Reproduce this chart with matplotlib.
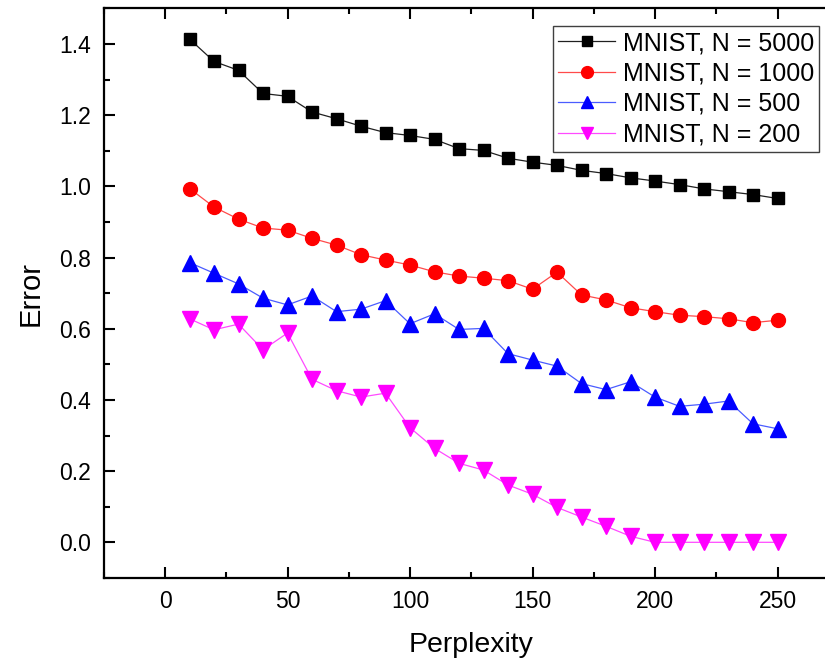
import matplotlib
matplotlib.use("Agg")
import matplotlib.pyplot as plt
from matplotlib.ticker import MultipleLocator

perplexity = [10, 20, 30, 40, 50, 60, 70, 80, 90, 100, 110, 120, 130,
              140, 150, 160, 170, 180, 190, 200, 210, 220, 230, 240, 250]

err_5000 = [1.414, 1.351, 1.326, 1.261, 1.253, 1.209, 1.190, 1.169, 1.151, 1.143,
            1.132, 1.106, 1.101, 1.079, 1.068, 1.059, 1.045, 1.036, 1.024, 1.015,
            1.005, 0.993, 0.985, 0.977, 0.966]
err_1000 = [0.994, 0.942, 0.908, 0.883, 0.877, 0.854, 0.835, 0.808, 0.793, 0.779,
            0.760, 0.748, 0.742, 0.735, 0.711, 0.759, 0.695, 0.681, 0.659, 0.648,
            0.638, 0.634, 0.628, 0.617, 0.624]
err_500 = [0.786, 0.756, 0.726, 0.686, 0.667, 0.692, 0.648, 0.655, 0.679, 0.614,
           0.642, 0.598, 0.601, 0.530, 0.512, 0.495, 0.446, 0.429, 0.451, 0.408,
           0.382, 0.388, 0.397, 0.333, 0.319]
err_200 = [0.628, 0.597, 0.613, 0.541, 0.588, 0.458, 0.426, 0.408, 0.419, 0.322,
           0.264, 0.222, 0.203, 0.161, 0.135, 0.098, 0.071, 0.045, 0.017, 0.0,
           0.0, 0.0, 0.0, 0.0, 0.0]

labels = ["MNIST, N = 5000", "MNIST, N = 1000", "MNIST, N = 500", "MNIST, N = 200"]

plt.rcParams['font.family'] = ['Liberation Sans', 'DejaVu Sans']

fig = plt.figure(figsize=(8.25, 6.6), dpi=100)
ax = fig.add_axes([103.75 / 825, 82.1 / 660, 735 / 825, 569.5 / 660])

ax.plot(perplexity, err_5000, color='#202020', lw=0.9, marker='s', ms=9,
        mfc='black', mec='black', label=labels[0])
ax.plot(perplexity, err_1000, color='#ff4a4a', lw=0.9, marker='o', ms=10,
        mfc='red', mec='red', label=labels[1])
ax.plot(perplexity, err_500, color='#4a5cff', lw=0.9, marker='^', ms=11,
        mfc='blue', mec='blue', label=labels[2])
ax.plot(perplexity, err_200, color='#ff4aff', lw=0.9, marker='v', ms=11,
        mfc='magenta', mec='magenta', label=labels[3])

ax.set_xlim(-25, 275)
ax.set_ylim(-0.1, 1.5)
ax.xaxis.set_major_locator(MultipleLocator(50))
ax.xaxis.set_minor_locator(MultipleLocator(25))
ax.yaxis.set_major_locator(MultipleLocator(0.2))
ax.yaxis.set_minor_locator(MultipleLocator(0.1))
ax.yaxis.set_major_formatter(plt.FuncFormatter(lambda v, p: f"{v:.1f}"))

ax.tick_params(which='both', direction='in', top=True, right=True, width=1.5,
               labelsize=16.5, color='black')
ax.tick_params(which='major', length=8, pad=9)
ax.tick_params(which='minor', length=4.5)
for s in ax.spines.values():
    s.set_linewidth(1.6)

ax.set_xlabel("Perplexity", fontsize=20.5)
ax.set_ylabel("Error", fontsize=21)
ax.xaxis.set_label_coords(0.5, -0.130)
ax.xaxis.label.set_va('baseline')
ax.yaxis.set_label_coords(-0.099, 0.5)
ax.yaxis.label.set_va('center')

leg = ax.legend(loc='upper right', bbox_to_anchor=(819 / 825, (660 - 26) / 660),
                bbox_transform=fig.transFigure, borderaxespad=0, fontsize=18,
                frameon=True, fancybox=False, framealpha=1, edgecolor='#404040',
                handlelength=2.3, handletextpad=0.3, labelspacing=0.26,
                borderpad=0.2, markerscale=0.85)
leg.get_frame().set_linewidth(1.0)

fig.savefig("out.png", dpi=100)
